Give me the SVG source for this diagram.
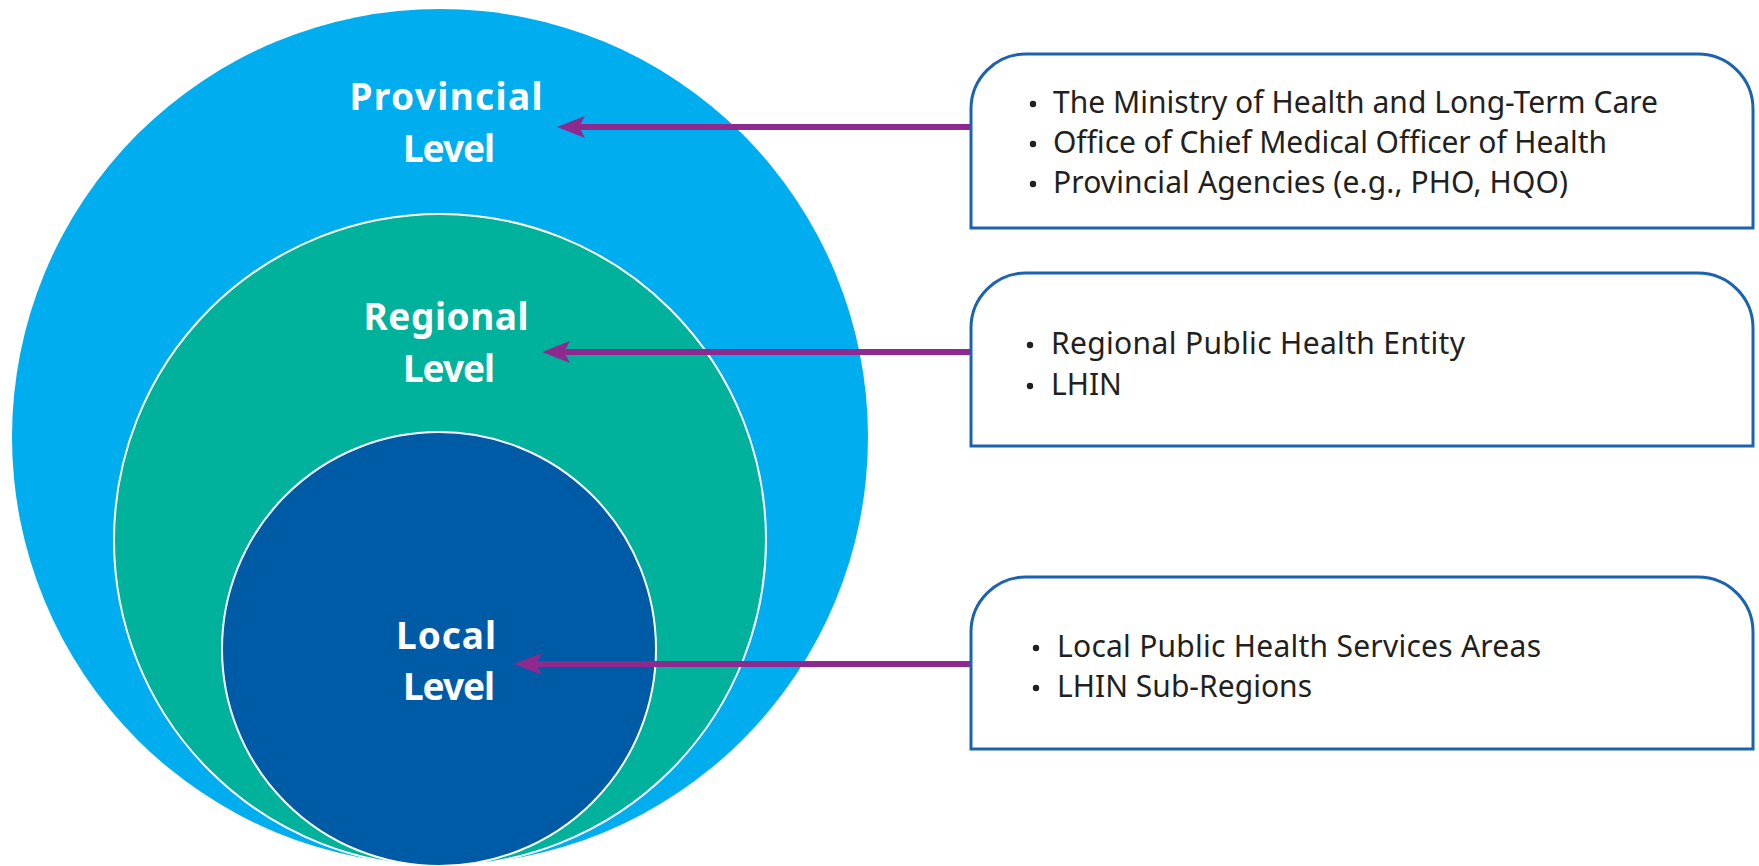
<svg xmlns="http://www.w3.org/2000/svg" width="1759" height="866" viewBox="0 0 1759 866">
<style>
.lvl{font-family:"Noto Sans","Liberation Sans",sans-serif;font-weight:700;font-size:37px;fill:#ffffff;text-anchor:middle}
.item{font-family:"Noto Sans","Liberation Sans",sans-serif;font-size:30px;fill:#231f20}
.box{fill:#ffffff;stroke:#1c63af;stroke-width:3}
.bul{fill:#231f20}
.arr{stroke:#8e2a8f;stroke-width:6;fill:none;marker-end:url(#ah)}
</style>
<defs>
<marker id="ah" viewBox="0 -13 32 26" markerWidth="32" markerHeight="26" refX="6" refY="0" orient="auto" markerUnits="userSpaceOnUse">
<path d="M0,-11 L28,0 L0,11 L6,0 Z" fill="#8e2a8f"/>
</marker>
</defs>
<rect width="1759" height="866" fill="#ffffff"/>
<g id="provincial">
<circle cx="440" cy="437" r="428" fill="#00aeef"/>
<text class="lvl" x="446" y="110" textLength="193" lengthAdjust="spacing">Provincial</text>
<text class="lvl" x="449" y="162" textLength="92" lengthAdjust="spacing">Level</text>
</g>
<g id="regional">
<circle cx="440" cy="540" r="326" fill="#00b19b" stroke="#ffffff" stroke-width="2"/>
<text class="lvl" x="446" y="330" textLength="165" lengthAdjust="spacing">Regional</text>
<text class="lvl" x="449" y="382" textLength="92" lengthAdjust="spacing">Level</text>
</g>
<g id="local">
<circle cx="439" cy="649" r="217" fill="#005ba7" stroke="#ffffff" stroke-width="2"/>
<text class="lvl" x="446" y="649" textLength="100" lengthAdjust="spacing">Local</text>
<text class="lvl" x="449" y="700" textLength="92" lengthAdjust="spacing">Level</text>
</g>
<g id="connectors">
<line class="arr" x1="971" y1="127" x2="579" y2="127"/>
<line class="arr" x1="971" y1="352" x2="564" y2="352"/>
<line class="arr" x1="971" y1="664" x2="536" y2="664"/>
</g>
<g id="box-provincial">
<path class="box" d="M971,228 L971,109 A55,55 0 0 1 1026,54 L1698,54 A55,55 0 0 1 1753,109 L1753,228 Z"/>
<circle class="bul" cx="1033" cy="104" r="3.2"/>
<circle class="bul" cx="1033" cy="144" r="3.2"/>
<circle class="bul" cx="1033" cy="184" r="3.2"/>
<text class="item" x="1053" y="113" textLength="605" lengthAdjust="spacing">The Ministry of Health and Long-Term Care</text>
<text class="item" x="1053" y="153" textLength="554" lengthAdjust="spacing">Office of Chief Medical Officer of Health</text>
<text class="item" x="1053" y="193" textLength="515" lengthAdjust="spacing">Provincial Agencies (e.g., PHO, HQO)</text>
</g>
<g id="box-regional">
<path class="box" d="M971,446 L971,328 A55,55 0 0 1 1026,273 L1698,273 A55,55 0 0 1 1753,328 L1753,446 Z"/>
<circle class="bul" cx="1030" cy="345" r="3.2"/>
<circle class="bul" cx="1030" cy="386" r="3.2"/>
<text class="item" x="1051" y="354" textLength="414" lengthAdjust="spacing">Regional Public Health Entity</text>
<text class="item" x="1051" y="395">LHIN</text>
</g>
<g id="box-local">
<path class="box" d="M971,749 L971,632 A55,55 0 0 1 1026,577 L1698,577 A55,55 0 0 1 1753,632 L1753,749 Z"/>
<circle class="bul" cx="1036" cy="648" r="3.2"/>
<circle class="bul" cx="1036" cy="688" r="3.2"/>
<text class="item" x="1057" y="657" textLength="484" lengthAdjust="spacing">Local Public Health Services Areas</text>
<text class="item" x="1057" y="697" textLength="255" lengthAdjust="spacing">LHIN Sub-Regions</text>
</g>
</svg>
